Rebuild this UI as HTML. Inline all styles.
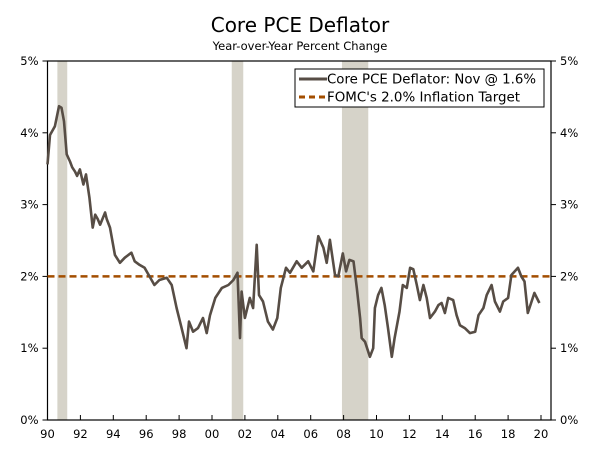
<!DOCTYPE html>
<html><head><meta charset="utf-8"><style>
body{margin:0;background:#fff;}
svg text{font-family:"DejaVu Sans","Liberation Sans",sans-serif;fill:#000;}
</style></head><body>
<svg width="600" height="453" viewBox="0 0 600 453">
<text x="300" y="32" font-size="20" text-anchor="middle">Core PCE Deflator</text>
<text x="300" y="50" font-size="11.5" text-anchor="middle">Year-over-Year Percent Change</text>
<g id="rec"></g>
<g id="axes"></g>
<g id="plot"></g>
<g>
<rect x="295" y="69" width="249" height="38" fill="#fff" stroke="#000" stroke-width="1"/>
<line x1="299" y1="79" x2="327" y2="79" stroke="#574d45" stroke-width="3"/>
<text x="327" y="83.5" font-size="13" textLength="209" lengthAdjust="spacingAndGlyphs">Core PCE Deflator: Nov @ 1.6%</text>
<line x1="299" y1="97" x2="327" y2="97" stroke="#a34e00" stroke-width="3" stroke-dasharray="6,4"/>
<text x="327" y="101.5" font-size="13" textLength="193" lengthAdjust="spacingAndGlyphs">FOMC's 2.0% Inflation Target</text>
</g>
</svg>
<script>
const years=[1990.0,1990.15,1990.45,1990.7,1990.85,1991.0,1991.17,1991.37,1991.5,1991.67,1991.8,1991.97,1992.18,1992.34,1992.55,1992.75,1992.9,1993.05,1993.2,1993.5,1993.6,1993.8,1994.1,1994.4,1994.7,1995.1,1995.3,1995.6,1995.9,1996.2,1996.5,1996.8,1997.25,1997.55,1997.85,1998.15,1998.45,1998.6,1998.85,1999.15,1999.45,1999.68,1999.88,2000.2,2000.6,2001.0,2001.3,2001.55,2001.7,2001.8,2002.0,2002.3,2002.5,2002.72,2002.86,2003.1,2003.4,2003.7,2003.97,2004.18,2004.5,2004.74,2005.15,2005.45,2005.85,2006.16,2006.46,2006.77,2006.97,2007.17,2007.48,2007.68,2007.95,2008.15,2008.35,2008.6,2008.8,2009.0,2009.1,2009.3,2009.6,2009.8,2009.9,2010.1,2010.3,2010.5,2010.7,2010.93,2011.1,2011.4,2011.6,2011.84,2012.04,2012.24,2012.45,2012.64,2012.85,2013.05,2013.25,2013.55,2013.76,2013.96,2014.16,2014.36,2014.66,2014.87,2015.07,2015.37,2015.68,2016.0,2016.2,2016.5,2016.7,2017.0,2017.2,2017.5,2017.7,2018.0,2018.2,2018.4,2018.6,2018.8,2019.0,2019.2,2019.4,2019.6,2019.9];
const pce=[3.56,3.97,4.09,4.37,4.35,4.16,3.70,3.60,3.52,3.46,3.40,3.49,3.28,3.42,3.10,2.68,2.86,2.80,2.72,2.89,2.80,2.68,2.30,2.19,2.26,2.33,2.21,2.16,2.12,2.00,1.88,1.95,1.98,1.88,1.56,1.28,1.00,1.37,1.23,1.28,1.42,1.21,1.46,1.70,1.84,1.88,1.95,2.05,1.14,1.79,1.42,1.70,1.56,2.44,1.74,1.65,1.37,1.26,1.42,1.84,2.12,2.05,2.21,2.12,2.21,2.07,2.56,2.40,2.19,2.51,2.02,2.00,2.32,2.07,2.23,2.21,1.84,1.42,1.14,1.09,0.88,1.00,1.56,1.74,1.84,1.60,1.28,0.88,1.14,1.51,1.88,1.84,2.12,2.10,1.88,1.67,1.88,1.70,1.42,1.51,1.60,1.63,1.49,1.70,1.67,1.46,1.32,1.28,1.21,1.23,1.46,1.56,1.74,1.88,1.65,1.51,1.65,1.70,2.02,2.07,2.12,2.00,1.93,1.49,1.63,1.77,1.63];
const target=2.0;
const recStart=[1990.6,2001.2,2007.9];
const recEnd=[1991.2,2001.9,2009.5];
const yTicks=[0,1,2,3,4,5];
const xTickYears=[1990,1992,1994,1996,1998,2000,2002,2004,2006,2008,2010,2012,2014,2016,2018,2020];
const xTickLabels=["90","92","94","96","98","00","02","04","06","08","10","12","14","16","18","20"];

const NS="http://www.w3.org/2000/svg";
const L=47.5,R=551,T=61,B=420;
const xs=y=>L+(y-1990)*16.45;
const ys=v=>B-v*(B-T)/5;
function mk(p,tag,at){const e=document.createElementNS(NS,tag);for(const k in at)e.setAttribute(k,at[k]);p.appendChild(e);return e;}
const rec=document.getElementById('rec'),axes=document.getElementById('axes'),plot=document.getElementById('plot');
recStart.forEach((s,i)=>{
 const r=mk(rec,'rect',{x:xs(s),y:T,width:xs(recEnd[i])-xs(s),height:B-T,fill:'#d6d3c9'});
 
 
});
mk(axes,'rect',{x:L,y:T,width:R-L,height:B-T,fill:'none',stroke:'#000','stroke-width':1.2});
yTicks.forEach(v=>{
 mk(axes,'line',{x1:L-5,x2:L,y1:ys(v),y2:ys(v),stroke:'#000'});
 mk(axes,'line',{x1:R,x2:R+5,y1:ys(v),y2:ys(v),stroke:'#000'});
 const t1=mk(axes,'text',{x:L-9,y:ys(v)+4,'font-size':11.5,'text-anchor':'end'});t1.textContent=v+'%';
 
 
 const t2=mk(axes,'text',{x:R+9,y:ys(v)+4,'font-size':11.5});t2.textContent=v+'%';
 
 
});
xTickYears.forEach((y,i)=>{
 mk(axes,'line',{x1:xs(y),x2:xs(y),y1:B,y2:B-5,stroke:'#000'});
 const t=mk(axes,'text',{x:xs(y),y:B+18,'font-size':11.5,'text-anchor':'middle'});t.textContent=xTickLabels[i];
 
 
});
const tl=mk(plot,'line',{x1:L,x2:R,y1:ys(target),y2:ys(target),stroke:'#a34e00','stroke-width':2.5,'stroke-dasharray':'7,4'});


const pl=mk(plot,'polyline',{points:years.map((y,i)=>xs(y).toFixed(1)+','+ys(pce[i]).toFixed(1)).join(' '),fill:'none',stroke:'#574d45','stroke-width':2.6,'stroke-linejoin':'round'});


</script>
</body></html>
